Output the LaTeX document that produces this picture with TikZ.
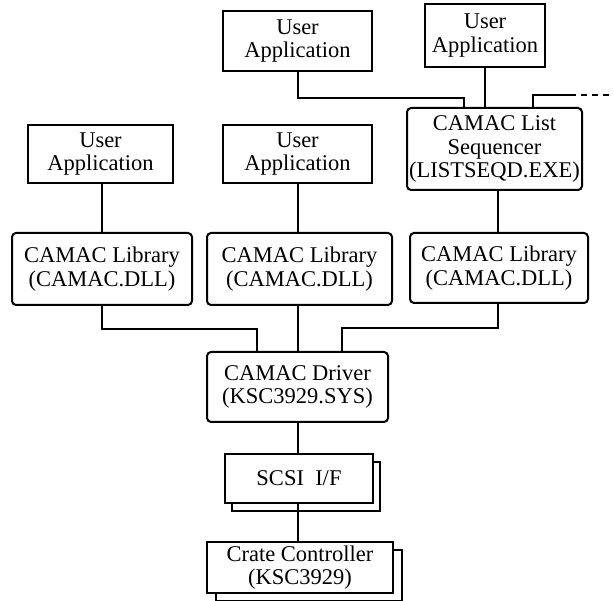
\documentclass[tikz,border=0pt]{standalone}
\usepackage{fontspec}
\setmainfont{Liberation Serif}
\begin{document}
\begin{tikzpicture}[x=1pt,y=-1pt,
  every node/.style={inner sep=0pt,align=center,font=\fontsize{22.5}{23.5}\selectfont},
  plainbox/.style={draw,line width=2pt,fill=white},
  roundbox/.style={draw,line width=2pt,fill=white,rounded corners=4pt},
  wire/.style={line width=2pt},
  backbox/.style={draw,line width=2pt,fill=white}]
\useasboundingbox (0,0) rectangle (614,601);
% user applications
\node[plainbox,minimum width=149pt,minimum height=60pt] (uatm) at (297.5,41) {User\\Application};
\node[plainbox,minimum width=120pt,minimum height=63pt] (uatr) at (485,35.5) {User\\Application};
\node[plainbox,minimum width=145pt,minimum height=58pt] (uaL) at (100.5,154) {User\\Application};
\node[plainbox,minimum width=149pt,minimum height=58pt] (uaM) at (297.5,154) {User\\Application};
% sequencer
\node[roundbox,minimum width=175pt,minimum height=82pt] (seq) at (494.5,149) {CAMAC List\\Sequencer\\(LISTSEQD.EXE)};
% libraries
\node[roundbox,minimum width=180pt,minimum height=72pt] (libL) at (102,269) {CAMAC Library\\(CAMAC.DLL)};
\node[roundbox,minimum width=185pt,minimum height=72pt] (libM) at (299.5,269) {CAMAC Library\\(CAMAC.DLL)};
\node[roundbox,minimum width=178pt,minimum height=70pt] (libR) at (499,268) {CAMAC Library\\(CAMAC.DLL)};
% driver
\node[roundbox,minimum width=181pt,minimum height=70pt] (drv) at (297.5,387) {CAMAC Driver\\(KSC3929.SYS)};
% SCSI with shadow
\node[backbox,minimum width=148pt,minimum height=49pt] (scsib) at (306,486.5) {};
\node[plainbox,minimum width=148pt,minimum height=49pt] (scsi) at (299,478.5) {SCSI\ \ I/F};
% crate controller with shadow
\node[backbox,minimum width=186pt,minimum height=51pt] (crateb) at (309,575.5) {};
\node[plainbox,minimum width=186pt,minimum height=51pt] (crate) at (300,567.5) {Crate Controller\\(KSC3929)};
% connectors
\coordinate (seqL) at ([xshift=-30.5pt]seq.north);
\coordinate (seqR) at ([xshift=38.5pt]seq.north);
\coordinate (dashA) at (570,95);
\coordinate (dashB) at (614,95);
\draw[wire] (uatm.south) -- ++(0,26) -| (seqL);
\draw[wire] (uatr.south) -- (uatr.south |- seq.north);
\draw[wire] (seqR) |- (dashA);
\draw[wire,dashed,dash pattern=on 6pt off 5pt] (dashA) -- (dashB);
\draw[wire] (libL.north) -- (libL.north |- uaL.south);
\draw[wire] (libM.north -| uaM.south) -- (uaM.south);
\draw[wire] ([xshift=3pt]seq.south) -- ([xshift=3pt]seq.south |- libR.north);
\coordinate (drvL) at ([xshift=-40.5pt]drv.north);
\coordinate (drvR) at ([xshift=44.5pt]drv.north);
\draw[wire] (libL.south) -- ++(0,23) -| (drvL);
\draw[wire] (libM.south -| drv.north) -- (drv.north);
\draw[wire] ([xshift=-1pt]libR.south) -- ++(0,24) -| (drvR);
\draw[wire] (drv.south) -- (drv.south |- scsi.north);
\draw[wire] (scsi.south -| drv.south) -- (drv.south |- crate.north);
\end{tikzpicture}
\end{document}
